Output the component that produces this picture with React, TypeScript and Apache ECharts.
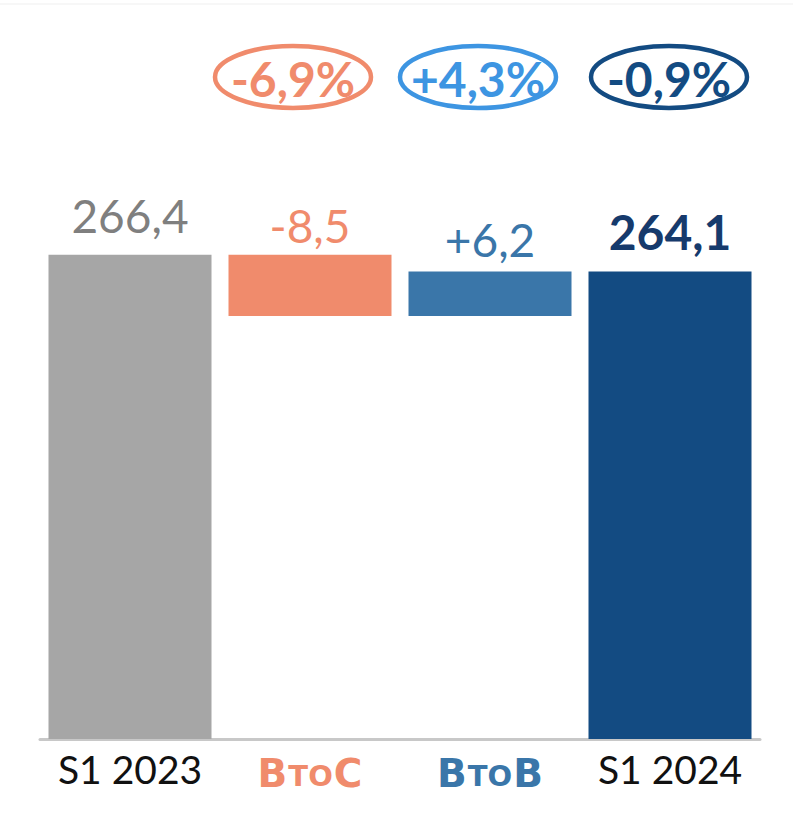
import React, { useEffect, useRef } from 'react';
import * as echarts from 'echarts';

const categories = ['S1 2023', 'BtoC', 'BtoB', 'S1 2024'];
const startValue = 266.4;
const changes = [-8.5, 6.2];
const endValue = 264.1;
const valueLabels = ['266,4', '-8,5', '+6,2', '264,1'];
const pctLabels = ['-6,9%', '+4,3%', '-0,9%'];

const barColors = ['#a6a6a6', '#f08b6c', '#3a76a9', '#134b82'];
const labelColors = ['#7f7f7f', '#f08b6c', '#3a76a9', '#163a6c'];
const labelWeights = ['normal', 'normal', 'normal', 'bold'];
const labelSizes = [46, 46, 46, 48];
const labelDistances = [16, 6, 9, 16];
const pctColors = ['#f08b6c', '#3d95e2', '#134b82'];
const pctCenters = [[293, 77], [478, 77], [669, 77]];

const FONT = 'Lato, "Open Sans", sans-serif';
const CAT_BOLD = 'DejaVu Sans';

export default function App() {
  const ref = useRef<HTMLDivElement>(null);
  useEffect(() => {
    document.body.style.margin = '0';
    if (!ref.current) return;
    const chart = echarts.init(ref.current, undefined, { renderer: 'svg' });

    const bases: number[] = [0];
    const heights: number[] = [startValue];
    let level = startValue;
    changes.forEach((c) => {
      const next = level + c;
      bases.push(Math.min(level, next));
      heights.push(Math.abs(c));
      level = next;
    });
    bases.push(0);
    heights.push(endValue);

    const graphics: any[] = [
      {
        type: 'line',
        shape: { x1: 0, y1: 4, x2: 793, y2: 4 },
        style: { stroke: '#efefef', lineWidth: 1 },
        silent: true,
      },
    ];
    pctLabels.forEach((t, i) => {
      const [cx, cy] = pctCenters[i];
      graphics.push({
        type: 'ellipse',
        shape: { cx, cy, rx: 78, ry: 31 },
        style: { fill: 'none', stroke: pctColors[i], lineWidth: 4.5 },
        silent: true,
      });
      graphics.push({
        type: 'text',
        x: cx,
        y: cy + 1,
        style: {
          text: t,
          fill: pctColors[i],
          font: `bold 48px ${FONT}`,
          align: 'center',
          verticalAlign: 'middle',
        },
        silent: true,
      });
    });

    const tok = (color: string, size: number, padBottom: number) => ({
      color,
      fontFamily: CAT_BOLD,
      fontWeight: 'bold',
      fontSize: size,
      verticalAlign: 'bottom',
      lineHeight: 44,
      padding: [0, 0.5, padBottom, 0.5],
    });

    chart.setOption({
      animation: false,
      grid: { left: 40, right: 33, top: 229, bottom: 86, containLabel: false },
      xAxis: {
        type: 'category',
        data: categories,
        axisLine: { lineStyle: { color: '#c8c8c8', width: 3 } },
        axisTick: { show: false },
        axisLabel: {
          interval: 0,
          margin: 10,
          fontSize: 39,
          color: '#111111',
          fontFamily: FONT,
          formatter: (v: string) => {
            if (v === 'BtoC') return '{oB|B}{os|TO}{oB|C}';
            if (v === 'BtoB') return '{bB|B}{bs|TO}{bB|B}';
            return v;
          },
          rich: {
            oB: tok('#f08b6c', 39, 0),
            os: tok('#f08b6c', 29, 2.5),
            bB: tok('#3a76a9', 39, 0),
            bs: tok('#3a76a9', 29, 2.5),
          },
        },
      },
      yAxis: {
        type: 'value',
        min: 199,
        max: 270,
        show: false,
        splitLine: { show: false },
      },
      graphic: graphics,
      series: [
        {
          type: 'bar',
          stack: 'wf',
          silent: true,
          itemStyle: { color: 'transparent' },
          data: bases,
          barWidth: 163,
        },
        {
          type: 'bar',
          stack: 'wf',
          barWidth: 163,
          data: heights.map((h, i) => ({
            value: h,
            itemStyle: { color: barColors[i] },
            label: {
              show: true,
              position: 'top',
              distance: labelDistances[i],
              formatter: valueLabels[i],
              color: labelColors[i],
              fontSize: labelSizes[i],
              fontWeight: labelWeights[i],
              fontFamily: FONT,
            },
          })),
        },
      ],
    });
    return () => chart.dispose();
  }, []);
  return <div ref={ref} style={{ width: 793, height: 825 }} />;
}
